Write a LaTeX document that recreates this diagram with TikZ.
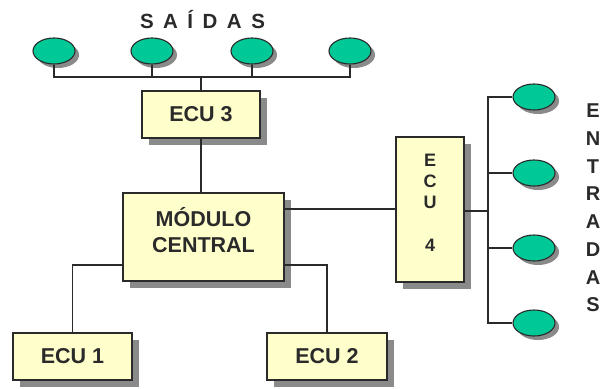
\documentclass[tikz,border=0pt]{standalone}
\usepackage{fontspec}
\setmainfont{Liberation Sans}
\usetikzlibrary{shadows,shapes.geometric}
\definecolor{boxfill}{HTML}{FFFFCC}
\definecolor{ovfill}{HTML}{00C896}
\definecolor{edge}{HTML}{2A2A2A}
\definecolor{shade}{HTML}{8A8A8A}
\tikzset{
  ecubox/.style={draw=edge, line width=1.3pt, fill=boxfill, inner sep=0pt,
    drop shadow={shadow xshift=7pt, shadow yshift=-7pt, fill=shade, opacity=1}},
  oval/.style={draw=edge, line width=1.1pt, fill=ovfill, ellipse, inner sep=0pt,
    minimum width=42pt, minimum height=26pt,
    drop shadow={shadow xshift=4pt, shadow yshift=-4pt, fill=shade, opacity=1}},
  wire/.style={draw=edge, line width=1.2pt},
  boxtext/.style={font=\bfseries\fontsize{21.5}{26}\selectfont, text=edge},
}
\begin{document}
\begin{tikzpicture}[x=1pt,y=-1pt]
\useasboundingbox (0,0) rectangle (601,388);
% outputs
\node[oval] (t1) at (54,51) {};
\node[oval] (t2) at (152,51) {};
\node[oval] (t3) at (252,51) {};
\node[oval] (t4) at (350,51) {};
% inputs
\node[oval] (r1) at (534,97) {};
\node[oval] (r2) at (534,173) {};
\node[oval] (r3) at (534,248) {};
\node[oval] (r4) at (534,323) {};
% boxes
\node[ecubox, boxtext, minimum width=118pt, minimum height=47pt] (ecu3) at (201,114.5) {ECU 3};
\node[ecubox, minimum width=161pt, minimum height=88pt,
  label={[boxtext, align=center, yshift=7pt]center:MÓDULO\\CENTRAL}] (mod) at (203.5,237) {};
\node[ecubox, boxtext, minimum width=119pt, minimum height=47pt] (ecu1) at (72.5,356.5) {ECU 1};
\node[ecubox, boxtext, minimum width=120pt, minimum height=47pt] (ecu2) at (327,356.5) {ECU 2};
\node[ecubox, minimum width=68pt, minimum height=145pt,
  label={[font=\bfseries\fontsize{18}{21}\selectfont, text=edge, align=center, yshift=7pt]center:E\\C\\U\\[22pt]4}] (ecu4) at (430,209.5) {};
% titles
\node[font=\bfseries\fontsize{20.5}{24}\selectfont, text=edge, anchor=base] (sai) at (202.5,28)
  {S\hspace{9.5pt}A\hspace{9.5pt}Í\hspace{9.5pt}D\hspace{9.5pt}A\hspace{9.5pt}S};
\node[font=\bfseries\fontsize{20}{27.7}\selectfont, text=edge, align=center] (ent) at (593,208)
  {E\\N\\T\\R\\A\\D\\A\\S};
% connectors
\coordinate (bus) at (201,77);
\draw[wire] (t1.south) |- (bus) -| (t4.south);
\draw[wire] (t2.south) -- (t2.south |- bus);
\draw[wire] (t3.south) -- (t3.south |- bus);
\draw[wire] (bus) -- (ecu3.north);
\draw[wire] (ecu3.south) -- (ecu3.south |- mod.north);
\draw[wire] ([yshift=28pt]mod.east) -- ([yshift=28pt]mod.east -| ecu4.west);
\draw[wire] ([yshift=-28pt]mod.west) -| (ecu1.north);
\draw[wire] ([yshift=-28pt]mod.east) -| (ecu2.north);
\coordinate (vb) at (488,211);
\draw[wire] (ecu4.east |- vb) -- (vb);
\draw[wire] (r1.west) -| (vb) |- (r4.west);
\draw[wire] (r2.west) -- (r2.west -| vb);
\draw[wire] (r3.west) -- (r3.west -| vb);
\end{tikzpicture}
\end{document}
